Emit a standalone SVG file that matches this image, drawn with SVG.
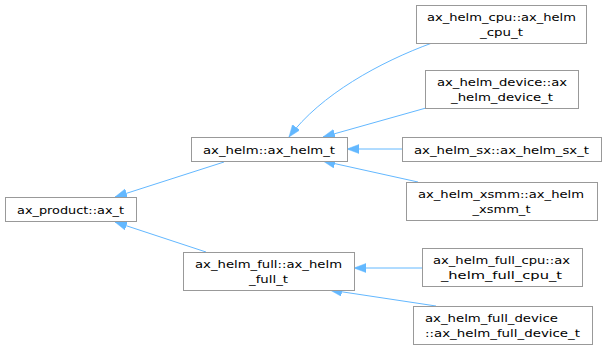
<svg xmlns="http://www.w3.org/2000/svg" width="607" height="357" viewBox="0 0 607 357">
  <style>
    .node rect { fill: #ffffff; stroke: #999999; stroke-width: 1; }
    .node text { font-family: "DejaVu Sans", "Liberation Sans", sans-serif; font-size: 10.5px; fill: #000000; }
    .edge { fill: none; stroke: #63b8ff; stroke-width: 1; marker-end: url(#arrow); }
  </style>
  <defs>
    <marker id="arrow" markerUnits="userSpaceOnUse" markerWidth="13" markerHeight="10" refX="12" refY="4.5" orient="auto">
      <path d="M0,0 L12,4.5 L0,9 Z" fill="#63b8ff" stroke="#63b8ff" stroke-width="0.5"/>
    </marker>
  </defs>

  <!-- inheritance connectors, child to parent -->
  <g id="edges">
    <path class="edge" d="M224,162 L115,197"/>
    <path class="edge" d="M206,252 L115,222"/>
    <path class="edge" d="M432,43 C380,62 320,95 289,137"/>
    <path class="edge" d="M426,108 L323,137"/>
    <path class="edge" d="M402,149 L347,149"/>
    <path class="edge" d="M418,182 L323,161"/>
    <path class="edge" d="M422,268 L354,268"/>
    <path class="edge" d="M436,306 L330,290"/>
  </g>

  <g id="ax_product_ax_t" class="node">
    <rect x="5.5" y="197.5" width="131" height="24"/>
    <text x="17" y="213.5" textLength="107" lengthAdjust="spacingAndGlyphs">ax_product::ax_t</text>
  </g>
  <g id="ax_helm_ax_helm_t" class="node">
    <rect x="191.5" y="137.5" width="156" height="24"/>
    <text x="203" y="153.5" textLength="132" lengthAdjust="spacingAndGlyphs">ax_helm::ax_helm_t</text>
  </g>
  <g id="ax_helm_full_ax_helm_full_t" class="node">
    <rect x="183.5" y="252.5" width="171" height="38"/>
    <text x="195" y="268" textLength="147" lengthAdjust="spacingAndGlyphs">ax_helm_full::ax_helm</text>
    <text x="249" y="283" textLength="39" lengthAdjust="spacingAndGlyphs">_full_t</text>
  </g>
  <g id="ax_helm_cpu_ax_helm_cpu_t" class="node">
    <rect x="416.5" y="5.5" width="170" height="38"/>
    <text x="427" y="21" textLength="149" lengthAdjust="spacingAndGlyphs">ax_helm_cpu::ax_helm</text>
    <text x="480" y="36" textLength="43" lengthAdjust="spacingAndGlyphs">_cpu_t</text>
  </g>
  <g id="ax_helm_device_ax_helm_device_t" class="node">
    <rect x="425.5" y="70.5" width="153" height="38"/>
    <text x="437" y="86" textLength="130" lengthAdjust="spacingAndGlyphs">ax_helm_device::ax</text>
    <text x="451" y="101" textLength="102" lengthAdjust="spacingAndGlyphs">_helm_device_t</text>
  </g>
  <g id="ax_helm_sx_ax_helm_sx_t" class="node">
    <rect x="402.5" y="137.5" width="199" height="24"/>
    <text x="414" y="153.5" textLength="175" lengthAdjust="spacingAndGlyphs">ax_helm_sx::ax_helm_sx_t</text>
  </g>
  <g id="ax_helm_xsmm_ax_helm_xsmm_t" class="node">
    <rect x="406.5" y="182.5" width="191" height="38"/>
    <text x="418" y="198" textLength="166" lengthAdjust="spacingAndGlyphs">ax_helm_xsmm::ax_helm</text>
    <text x="472.5" y="213" textLength="58" lengthAdjust="spacingAndGlyphs">_xsmm_t</text>
  </g>
  <g id="ax_helm_full_cpu_ax_helm_full_cpu_t" class="node">
    <rect x="422.5" y="248.5" width="160" height="38"/>
    <text x="433" y="264" textLength="137" lengthAdjust="spacingAndGlyphs">ax_helm_full_cpu::ax</text>
    <text x="441" y="279" textLength="121" lengthAdjust="spacingAndGlyphs">_helm_full_cpu_t</text>
  </g>
  <g id="ax_helm_full_device_ax_helm_full_device_t" class="node">
    <rect x="413.5" y="306.5" width="179" height="38"/>
    <text x="425" y="322" textLength="133" lengthAdjust="spacingAndGlyphs">ax_helm_full_device</text>
    <text x="425" y="337" textLength="155" lengthAdjust="spacingAndGlyphs">::ax_helm_full_device_t</text>
  </g>
</svg>
